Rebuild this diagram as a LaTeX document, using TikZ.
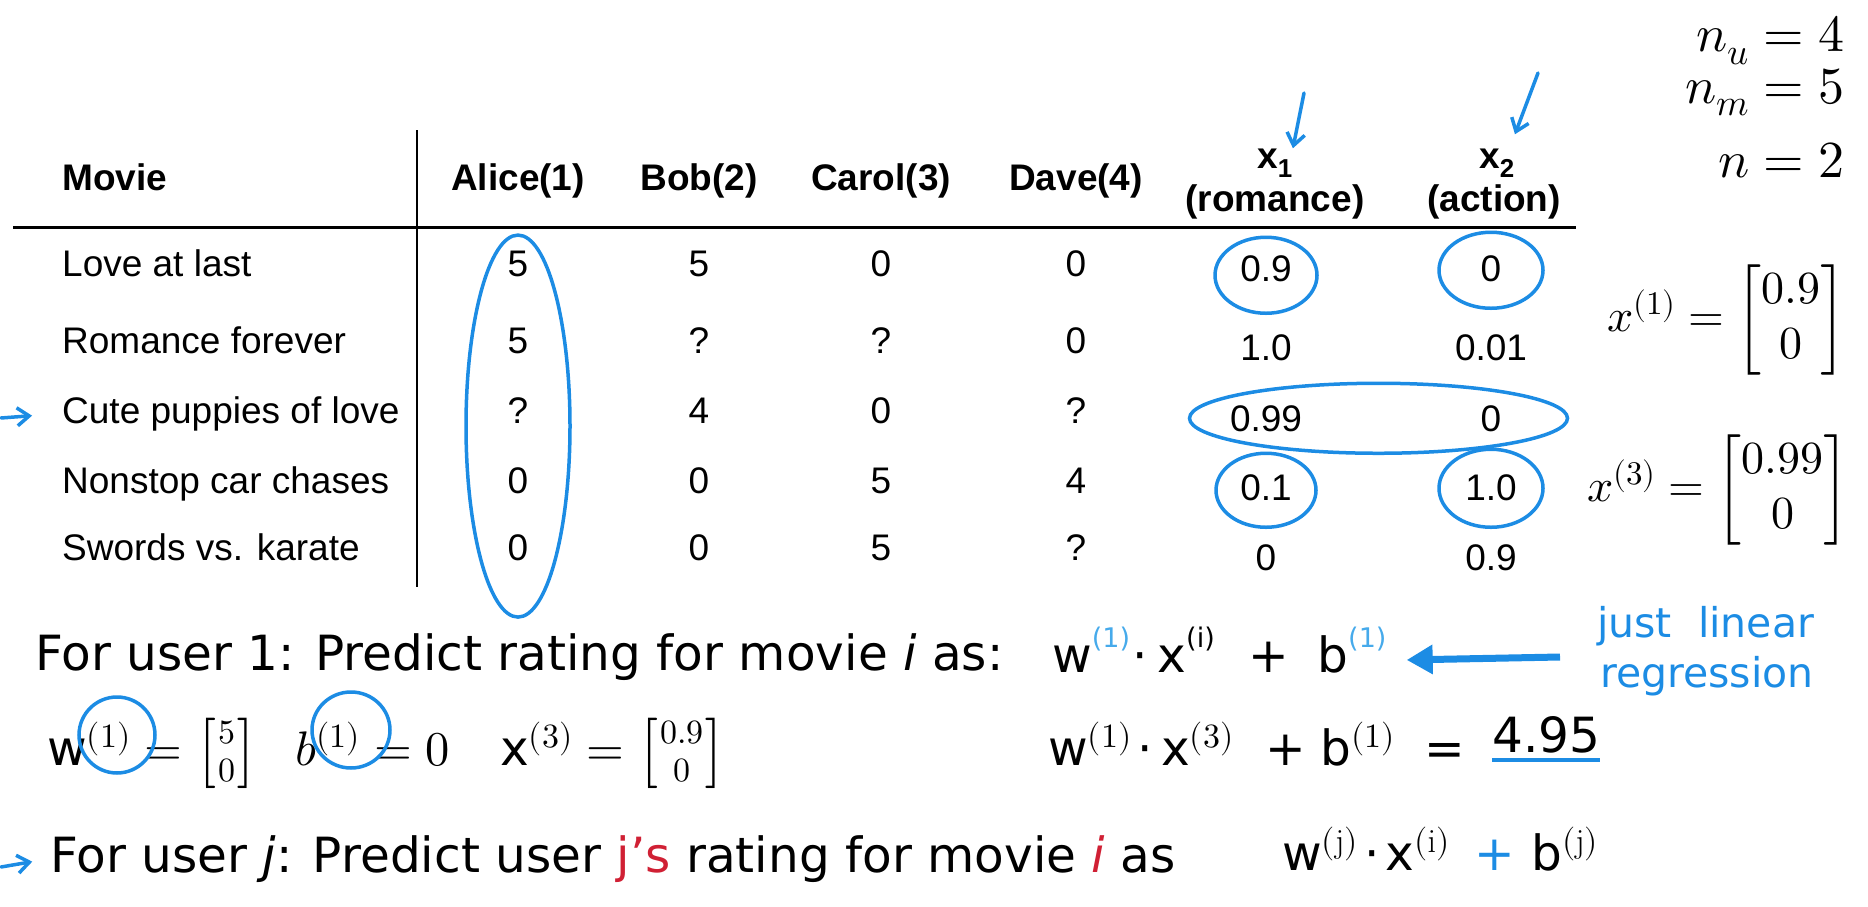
\documentclass[tikz,border=0pt]{standalone}
\usepackage{amsmath}
\usepackage{unicode-math}
\setmathfont{Latin Modern Math}
\newfontfamily\tabfont{Liberation Sans}
\newfontfamily\slidefont{DejaVu Sans}
\DeclareMathSizes{48.5}{48.5}{34}{24}
\DeclareMathSizes{52}{52}{37}{26}
\DeclareMathSizes{46}{46}{33}{23}
\usetikzlibrary{arrows.meta,calc}
\definecolor{penblue}{RGB}{28,140,228}
\definecolor{suplight}{RGB}{70,170,235}
\definecolor{inkred}{RGB}{208,32,52}
\tikzstyle{cell} = [font=\tabfont\fontsize{37}{44}\selectfont, inner sep=0pt, anchor=base]
\tikzstyle{headcell} = [cell, font=\tabfont\bfseries\fontsize{37}{44}\selectfont]
\tikzstyle{slide} = [font=\slidefont\fontsize{48.5}{58}\selectfont, inner sep=0pt, anchor=base west]
\tikzstyle{bluenote} = [slide, font=\slidefont\fontsize{41}{48}\selectfont, text=penblue]
\tikzstyle{mathbig} = [font=\fontsize{52}{62}\selectfont, inner sep=0pt, anchor=base east]
\tikzstyle{mathvec} = [font=\fontsize{46}{55}\selectfont\setlength{\arraycolsep}{2pt}, inner sep=0pt, anchor=east]
\tikzstyle{inkline} = [draw=penblue, line width=3.5pt]
\tikzstyle{inkarrow} = [inkline, line cap=round, -{Straight Barb[length=12pt,width=18pt]}]
\tikzstyle{bigarrow} = [draw=penblue, line width=7pt, -{Triangle[length=26pt,width=28pt]}]
\newcommand{\hi}[1]{\raisebox{0.5em}{\fontsize{27}{30}\selectfont #1}}
\newcommand{\colvec}[2]{\left[\genfrac{}{}{0pt}{1}{#1}{#2}\right]}

\begin{document}
\begin{tikzpicture}[x=1pt,y=-1pt]
\useasboundingbox (0,0) rectangle (1868,907);
% table header
\node[headcell, anchor=base west] (movie) at (62,190) {Movie};
\foreach \who/\cx [count=\k] in {Alice(1)/518, Bob(2)/699, Carol(3)/881, Dave(4)/1076}
  \node[headcell] (u\k) at (\cx,190) {\who};
\node[headcell] (x1h) at (1275,168) {x\textsubscript{1}};
\node[headcell] (x1n) at (1275,211) {(romance)};
\node[headcell] (x2h) at (1497,168) {x\textsubscript{2}};
\node[headcell] (x2n) at (1494,211) {(action)};
\draw[line width=3pt] (13,227) -- (1576,227);
\draw[line width=2.5pt] (417,130) -- (417,587);
% table rows
\foreach \film/\ra/\rb/\rc/\rd/\fa/\fb/\ry/\fy [count=\r] in {
  Love at last/5/5/0/0/0.9/0/263/268,
  Romance forever/5/?/?/0/1.0/0.01/340/347,
  Cute puppies of love/?/4/0/?/0.99/0/410/418,
  Nonstop car chases/0/0/5/4/0.1/1.0/480/487,
  Swords vs. karate/0/0/5/?/0/0.9/547/557}
{
  \node[cell, anchor=base west] (m\r) at (62,\ry+13) {\film};
  \node[cell] (al\r) at (518,\ry+13) {\ra};
  \node[cell] (bo\r) at (699,\ry+13) {\rb};
  \node[cell] (ca\r) at (881,\ry+13) {\rc};
  \node[cell] (da\r) at (1076,\ry+13) {\rd};
  \node[cell] (fa\r) at (1266,\fy+13) {\fa};
  \node[cell] (fb\r) at (1491,\fy+13) {\fb};
}
% pen marks on the table
\draw[inkline] ([yshift=-16pt]al3) ellipse [x radius=52pt, y radius=191pt];
\draw[inkline] ([yshift=-7pt]fa1) ellipse [x radius=51pt, y radius=38pt];
\draw[inkline] ([yshift=-2pt]fb1) ellipse [x radius=52pt, y radius=38pt];
\draw[inkline] ($(fa3)!0.5!(fb3)$) ellipse [x radius=189pt, y radius=35pt];
\draw[inkline] ([yshift=-3pt]fa4) ellipse [x radius=50pt, y radius=37pt];
\draw[inkline] ([yshift=-1pt]fb4) ellipse [x radius=52pt, y radius=39pt];
\coordinate (x1tail) at (1304,93);
\coordinate (x2tail) at (1538,73);
\coordinate (cptail) at (1,418);
\draw[inkarrow] (x1tail) -- (x1h.north east);
\draw[inkarrow] (x2tail) -- ([yshift=14pt]x2h.north east);
\draw[inkarrow, shorten >=30pt] (cptail) -- (m3.west);
% counts and feature vectors
\node[mathbig] (nu) at (1845,52) {$n_u = 4$};
\node[mathbig] (nm) at (1845,103) {$n_m = 5$};
\node[mathbig] (nn) at (1845,177) {$n = 2$};
\node[mathvec] (xone) at (1845,320) {$x^{(1)} = \begin{bmatrix}0.9\\0\end{bmatrix}$};
\node[mathvec] (xthree) at (1848,490) {$x^{(3)} = \begin{bmatrix}0.99\\0\end{bmatrix}$};
% prediction for user 1
\node[slide] (p1) at (35,670) {For user 1: Predict rating for movie \textit{i} as:};
\node[slide] (f1) at (1052,672) {w\hi{\color{suplight}(1)}\kern2pt·\kern10pt x\hi{(i)}\kern34pt+\kern28pt b\hi{\color{suplight}(1)}};
\node[bluenote] (lr1) at (1597,637) {just\ \ linear};
\node[bluenote] (lr2) at (1600,687) {regression};
\coordinate (lrtail) at (1560,657);
\draw[bigarrow] (lrtail) -- ([xshift=20pt,yshift=-10pt]f1.east);
\node[slide] (wdef) at (47,765) {w$^{(1)} = \colvec{5}{0}$};
\node[slide] (bdef) at (295,765) {$b^{(1)} = 0$};
\node[slide] (xdef) at (500,765) {x$^{(3)} = \colvec{0.9}{0}$};
\draw[inkline] (117,735) ellipse [x radius=38pt, y radius=38pt];
\draw[inkline] (351,730) ellipse [x radius=39pt, y radius=38pt];
\node[slide] (f2) at (1048,765) {w$^{(1)}$\kern6pt·\kern8pt x$^{(3)}$\kern32pt+\kern14pt b$^{(1)}$\kern29pt=};
\node[slide] (res) at (1492,752) {4.95};
\draw[inkline] ([yshift=-8pt]res.base west) -- ([yshift=-8pt]res.base east);
% general user j
\node[slide] (p3) at (50,872) {For user \textit{j}: Predict user {\color{inkred}j’s} rating for movie {\color{inkred}\textit{i}} as};
\node[slide] (f3) at (1282,870) {w$^{(\mathrm{j})}$\kern6pt·\kern6pt x$^{(\mathrm{i})}$\kern25pt{\color{penblue}+}\kern16pt b$^{(\mathrm{j})}$};
\coordinate (ujtail) at (1,867);
\draw[inkarrow, shorten >=18pt] (ujtail) -- (p3.west);
\end{tikzpicture}
\end{document}
